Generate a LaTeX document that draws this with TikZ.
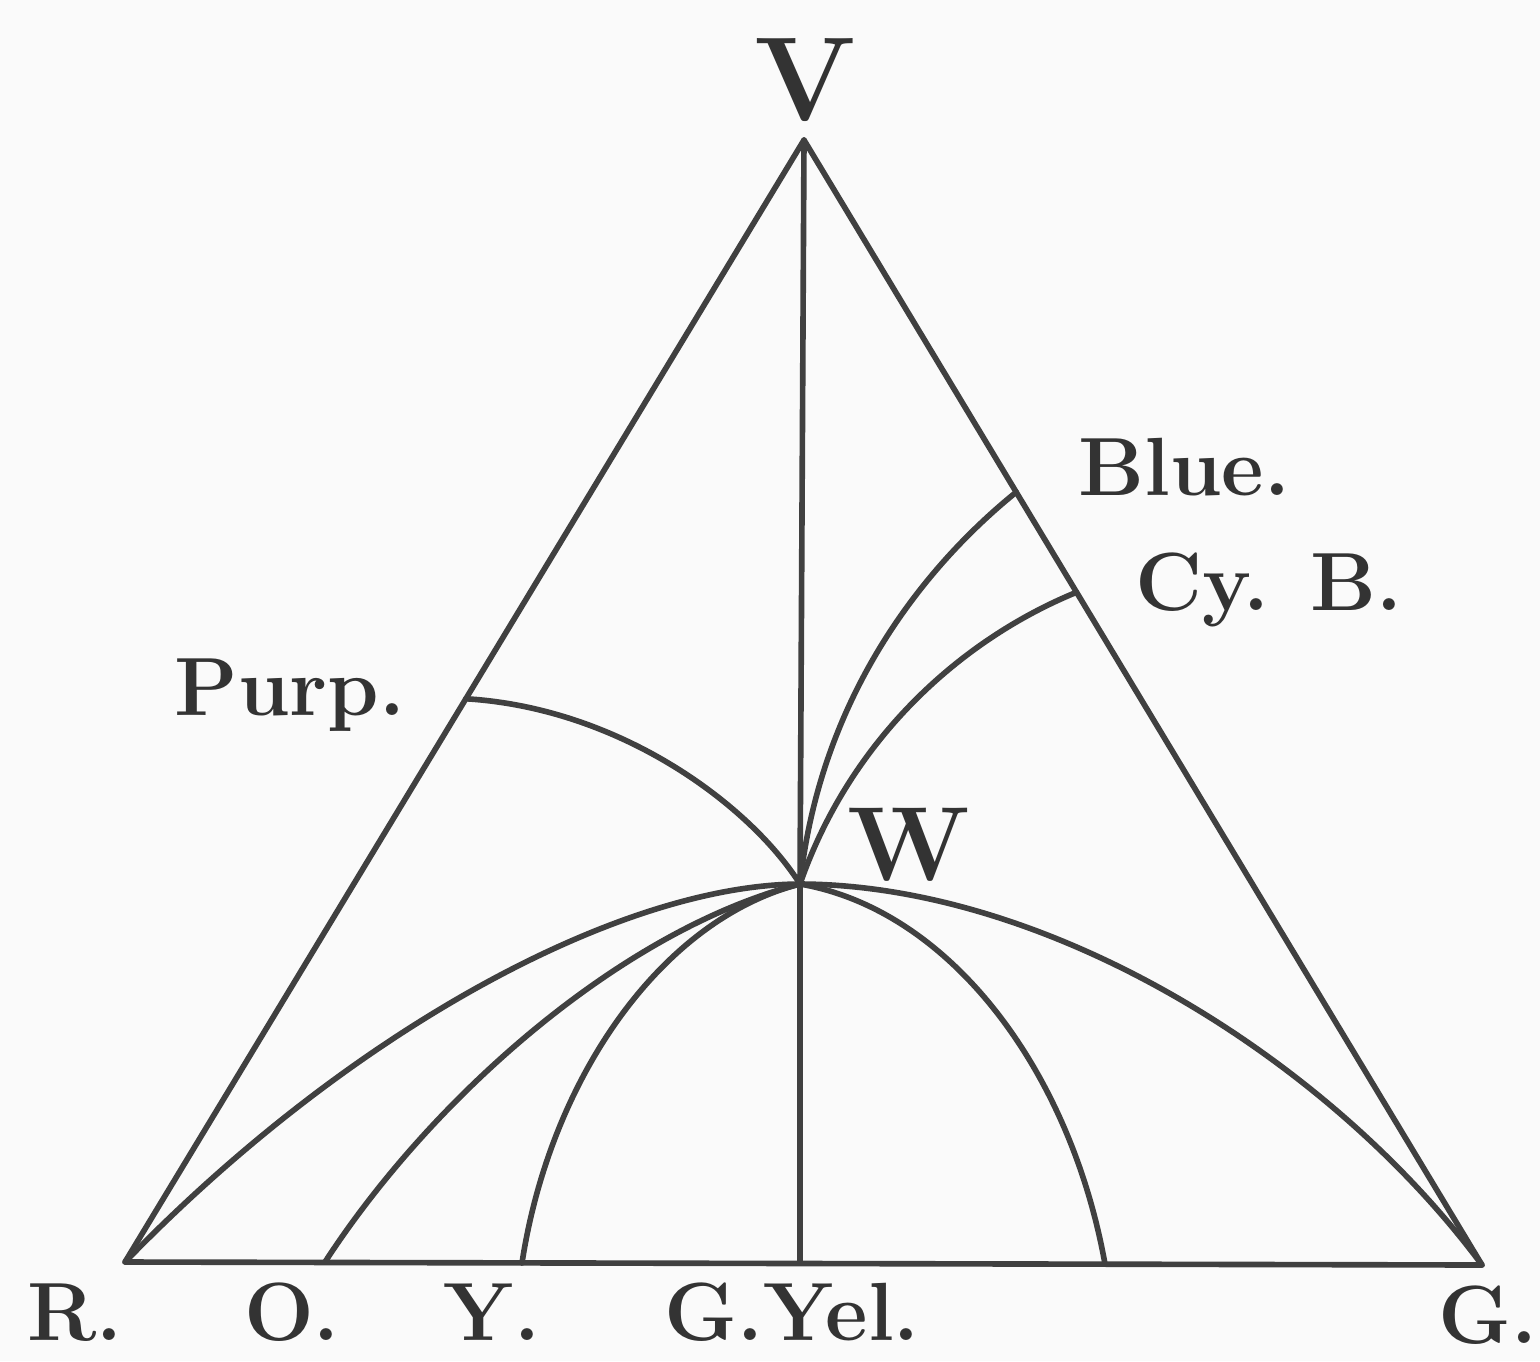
\documentclass[tikz,border=0pt]{standalone}
\usepackage{tikz}
\usetikzlibrary{calc}

\tikzset{
  edge/.style={draw=black!75, line width=1.6pt, line cap=round, line join=round},
  lbl/.style={font=\fontsize{23.5}{27}\selectfont\bfseries, text=black!80, inner sep=0pt, anchor=base},
  bigl/.style={lbl, font=\fontsize{30}{34}\selectfont\bfseries},
}

\begin{document}
\begin{tikzpicture}[x=0.1mm,y=-0.1mm]
    \fill[black!2] (0,0) rectangle (1540,1361);
    \useasboundingbox (0,0) rectangle (1540,1361);

    % Corners
    \coordinate (R) at (125,1262);
    \coordinate (G) at (1482,1265);
    \coordinate (V) at (804,140);
    \coordinate (W) at (800,884);

    % Points on the base
    \coordinate (O)   at (325,1262);
    \coordinate (Y)   at (522,1263);
    \coordinate (GY)  at (800,1263);
    \coordinate (GYg) at (1105,1264);

    % Points on the sides
    \coordinate (Purp) at ($(R)!0.502!(V)$);
    \coordinate (Blue) at ($(V)!0.313!(G)$);
    \coordinate (CyB)  at ($(V)!0.402!(G)$);

    % Triangle and middle line
    \draw[edge] (R) -- (V) -- (G) -- cycle;
    \draw[edge] (V) -- (W) -- (GY);

    % Curves from the sides to W
    \draw[edge] (Purp) .. controls (620,708) and (750,805) .. (W);
    \draw[edge] (Blue) .. controls (920,570) and (820,700) .. (W);
    \draw[edge] (CyB)  .. controls (960,640) and (850,740) .. (W);

    % Curves from the base to W
    \draw[edge] (R) .. controls (350,1030) and (620,885) .. (W)
                    .. controls (1050,885) and (1330,1060) .. (G);
    \draw[edge] (O)   .. controls (430,1100) and (620,930) .. (W);
    \draw[edge] (Y)   .. controls (550,1080) and (660,920) .. (W);
    \draw[edge] (GYg) .. controls (1070,1070) and (950,910) .. (W);

    % Labels
    \node[lbl, font=\fontsize{34}{38}\selectfont\bfseries] (lV) at (805,120) {V};
    \node[bigl] (lW) at (909,880) {W};
    \node[lbl] (lR)    at (75,1340)   {R.};
    \node[lbl] (lO)    at (292,1340)  {O.};
    \node[lbl] (lY)    at (492,1340)  {Y.};
    \node[lbl] (lGY)   at (792,1340)  {G.Yel.};
    \node[lbl] (lG)    at (1488,1343) {G.};
    \node[lbl] (lPurp) at (290,715)   {Purp.};
    \node[lbl] (lBlue) at (1184,495)  {Blue.};
    \node[lbl] (lCyB)  at (1269,610)  {Cy. B.};
\end{tikzpicture}
\end{document}
